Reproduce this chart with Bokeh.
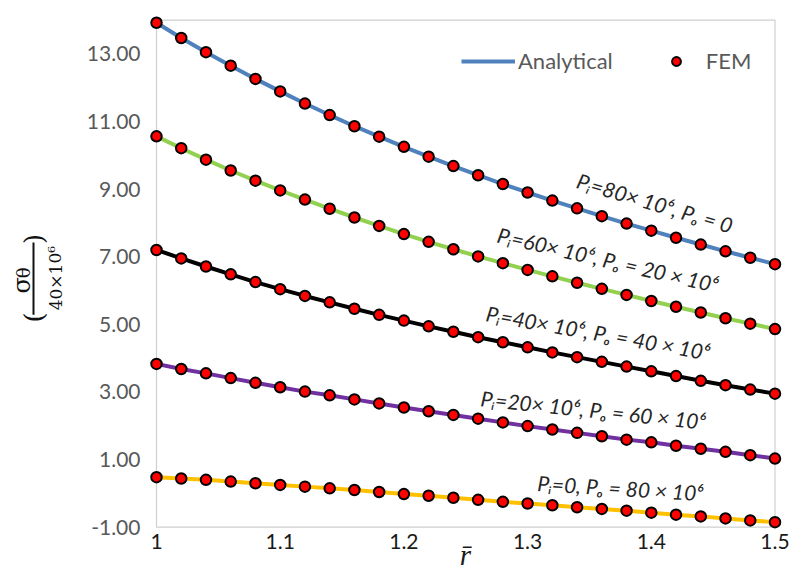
from bokeh.plotting import figure
from bokeh.layouts import row
from bokeh.models import (Range1d, FixedTicker, NumeralTickFormatter, Legend, LegendItem,
                          ColumnDataSource)
from bokeh.core.properties import value
from bokeh.embed import file_html
from bokeh.resources import INLINE

# ---------------- data ----------------
r = [1.00, 1.02, 1.04, 1.06, 1.08, 1.10, 1.12, 1.14, 1.16, 1.18, 1.20, 1.22, 1.24,
     1.26, 1.28, 1.30, 1.32, 1.34, 1.36, 1.38, 1.40, 1.42, 1.44, 1.46, 1.48, 1.50]

s_pi80_po0 = [13.92, 13.47, 13.05, 12.65, 12.26, 11.89, 11.53, 11.19, 10.86, 10.55, 10.25, 9.96, 9.68,
              9.41, 9.15, 8.90, 8.66, 8.43, 8.20, 7.98, 7.77, 7.56, 7.36, 7.16, 6.97, 6.78]
s_pi60_po20 = [10.56, 10.21, 9.87, 9.55, 9.25, 8.96, 8.69, 8.42, 8.16, 7.91, 7.67, 7.44, 7.22,
               7.01, 6.81, 6.61, 6.42, 6.23, 6.05, 5.87, 5.69, 5.52, 5.35, 5.18, 5.02, 4.86]
s_pi40_po40 = [7.20, 6.95, 6.71, 6.48, 6.25, 6.04, 5.84, 5.65, 5.46, 5.28, 5.11, 4.94, 4.78,
               4.62, 4.47, 4.32, 4.17, 4.03, 3.89, 3.75, 3.61, 3.47, 3.33, 3.20, 3.07, 2.95]
s_pi20_po60 = [3.83, 3.68, 3.55, 3.41, 3.27, 3.14, 3.01, 2.90, 2.78, 2.66, 2.54, 2.43, 2.32,
               2.21, 2.10, 1.99, 1.89, 1.79, 1.69, 1.59, 1.51, 1.41, 1.32, 1.23, 1.13, 1.03]
s_pi0_po80 = [0.48, 0.44, 0.40, 0.35, 0.30, 0.25, 0.20, 0.15, 0.10, 0.04, -0.02, -0.07, -0.13,
              -0.19, -0.25, -0.30, -0.35, -0.41, -0.46, -0.51, -0.57, -0.63, -0.68, -0.74, -0.80, -0.85]

series = [s_pi80_po0, s_pi60_po20, s_pi40_po40, s_pi20_po60, s_pi0_po80]
series_labels = ["P\u1d62=80\u00d7 10\u2076, P\u2092 = 0",
                 "P\u1d62=60\u00d7 10\u2076, P\u2092 = 20 \u00d7 10\u2076",
                 "P\u1d62=40\u00d7 10\u2076, P\u2092 = 40 \u00d7 10\u2076",
                 "P\u1d62=20\u00d7 10\u2076, P\u2092 = 60 \u00d7 10\u2076",
                 "P\u1d62=0, P\u2092 = 80 \u00d7 10\u2076"]

x_ticks = [1.0, 1.1, 1.2, 1.3, 1.4, 1.5]
y_ticks = [-1, 1, 3, 5, 7, 9, 11, 13]
x_min, x_max = 1.0, 1.5
y_min, y_max = -1.0, 14.0
x_title = "r\u0304"

# ---------------- styles / layout ----------------
line_colors = ["#4f81bd", "#92d050", "#000000", "#7030a0", "#ffc000"]
ann_x = [1.403, 1.365, 1.357, 1.353, 1.375]
ann_y = [8.60, 6.92, 4.76, 2.48, 0.17]
ann_angle = [-16.5, -13.0, -10.0, -6.0, -3.5]

LEFT_W = 76
W, H = 792, 583
X1_PX, PPU_X = 156.0, 1237.0       # x=1 at 156 px
YM1_PX, PPU_Y = 526.7, 33.81       # y=-1 at 526.7 px
FR_L, FR_R, FR_T, FR_B = 148, 782, 14, 535

xs = x_min - (X1_PX - FR_L) / PPU_X
xe = x_min + (FR_R - X1_PX) / PPU_X
ys = y_min - (FR_B - YM1_PX) / PPU_Y
ye = y_min + (YM1_PX - FR_T) / PPU_Y

p = figure(width=W - LEFT_W, height=H, output_backend="svg", toolbar_location=None,
           x_range=Range1d(xs, xe), y_range=Range1d(ys, ye),
           min_border_left=FR_L - LEFT_W, min_border_right=W - FR_R,
           min_border_top=FR_T, min_border_bottom=H - FR_B)
p.outline_line_color = None
p.grid.visible = False
p.background_fill_color = "white"
p.border_fill_color = "white"

# plot-area box
p.quad(left=[x_min], right=[x_max], bottom=[y_min], top=[y_max],
       fill_color=None, line_color="#d0d0d0", line_width=1.2)

line_renderers = []
for s, c in zip(series, line_colors):
    line_renderers.append(p.line(r, s, line_color=c, line_width=4))
scatter_renderers = []
for s in series:
    scatter_renderers.append(p.scatter(r, s, size=10.5, fill_color="#ff0000",
                                       line_color="#000000", line_width=2))

ann_src = ColumnDataSource(dict(x=ann_x, y=ann_y, text=series_labels, angle=ann_angle))
p.text(x="x", y="y", text="text", angle="angle", angle_units="deg", source=ann_src,
       text_align="center", text_baseline="middle", text_font=value("Lato"),
       text_font_style="italic", text_font_size="21px", text_color="#262626")

# axes
for ax in (p.xaxis[0], p.yaxis[0]):
    ax.axis_line_color = None
    ax.major_tick_line_color = None
    ax.minor_tick_line_color = None
    ax.major_tick_out = 0
    ax.major_tick_in = 0
    ax.major_label_text_font = "Lato"
    ax.major_label_text_font_size = "21px"

p.yaxis.ticker = FixedTicker(ticks=y_ticks)
p.yaxis.formatter = NumeralTickFormatter(format="0.00")
p.yaxis.major_label_text_color = "#595959"
p.yaxis.major_label_standoff = 8

p.xaxis.ticker = FixedTicker(ticks=x_ticks)
p.xaxis.formatter = NumeralTickFormatter(format="0.[0]")
p.xaxis.major_label_text_color = "#1a1a1a"
p.xaxis.major_label_standoff = -2
p.xaxis.axis_label = x_title
p.xaxis.axis_label_text_font = "Liberation Serif"
p.xaxis.axis_label_text_font_style = "italic"
p.xaxis.axis_label_text_font_size = "29px"
p.xaxis.axis_label_text_color = "#1a1a1a"
p.xaxis.axis_label_standoff = -13

legend = Legend(items=[LegendItem(label="Analytical", renderers=[line_renderers[0]]),
                       LegendItem(label="FEM", renderers=[scatter_renderers[0]])],
                orientation="horizontal", location=(313, 461),
                glyph_width=54, glyph_height=22, label_standoff=3, spacing=36,
                padding=0, margin=0, border_line_color=None, background_fill_alpha=0,
                label_text_font="Lato", label_text_font_size="22px",
                label_text_color="#595959")
p.add_layout(legend)

# ---------------- left panel: y-axis title as a fraction ----------------
q = figure(width=LEFT_W, height=H, output_backend="svg", toolbar_location=None,
           x_range=Range1d(0, LEFT_W), y_range=Range1d(H, 0),
           x_axis_location=None, y_axis_location=None,
           min_border=0, min_border_left=0, min_border_right=0,
           min_border_top=0, min_border_bottom=0)
q.outline_line_color = None
q.grid.visible = False
q.border_fill_color = "white"
q.background_fill_color = "white"

serif = value("DejaVu Serif")
q.text(x=[21], y=[303], text=["\u03c3"], angle=[90], angle_units="deg",
       text_align="center", text_baseline="middle", text_font=serif,
       text_font_size="24px", text_color="#111111")
q.text(x=[23], y=[289], text=["\u03b8"], angle=[90], angle_units="deg",
       text_align="center", text_baseline="middle", text_font=serif,
       text_font_size="18px", text_color="#111111")
q.segment(x0=[33], y0=[255], x1=[33], y1=[336], line_color="#111111", line_width=2)
q.text(x=[55], y=[295], text=["40\u00d710\u2076"], angle=[90], angle_units="deg",
       text_align="center", text_baseline="middle", text_font=serif,
       text_font_size="17px", text_color="#111111")
q.text(x=[33], y=[339], text=["("], angle=[90], angle_units="deg",
       text_align="center", text_baseline="middle", text_font=serif,
       text_font_size="26px", text_color="#111111")
q.text(x=[33], y=[251], text=[")"], angle=[90], angle_units="deg",
       text_align="center", text_baseline="middle", text_font=serif,
       text_font_size="26px", text_color="#111111")

layout = row(q, p, spacing=0)
open("out.html", "w").write(file_html(layout, INLINE))
